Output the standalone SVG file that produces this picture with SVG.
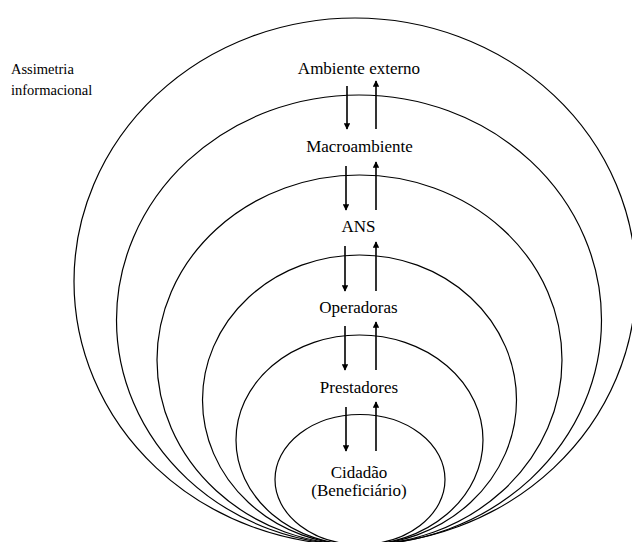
<svg xmlns="http://www.w3.org/2000/svg" width="632" height="542" viewBox="0 0 632 542">
<style>
.ring{fill:none;stroke:#000;stroke-width:1.2}
.lbl{font-family:"Liberation Serif","Times New Roman",serif;font-size:17px;fill:#000}
.side{font-family:"Liberation Serif","Times New Roman",serif;font-size:14.5px;fill:#000}
.arr{stroke:#000;stroke-width:1.6;fill:none;marker-end:url(#ah)}
</style>
<defs>
<marker id="ah" viewBox="0 0 10 10" refX="9" refY="5" markerWidth="4" markerHeight="4" markerUnits="strokeWidth" orient="auto">
<path d="M0,0 L10,5 L0,10 z" fill="#000"/>
</marker>
</defs>
<rect width="632" height="542" fill="#fff"/>
<g id="ambiente-externo">
<ellipse class="ring" cx="355" cy="281.5" rx="281" ry="263.5"/>
<text class="lbl" x="359" y="74" text-anchor="middle">Ambiente externo</text>
</g>
<g id="macroambiente">
<ellipse class="ring" cx="359" cy="320" rx="242.5" ry="225"/>
<text class="lbl" x="359.5" y="152" text-anchor="middle">Macroambiente</text>
</g>
<g id="ans">
<ellipse class="ring" cx="359.5" cy="360" rx="202.5" ry="185"/>
<text class="lbl" x="358.5" y="232" text-anchor="middle">ANS</text>
</g>
<g id="operadoras">
<ellipse class="ring" cx="359.5" cy="400" rx="157" ry="145"/>
<text class="lbl" x="358.5" y="313" text-anchor="middle">Operadoras</text>
</g>
<g id="prestadores">
<ellipse class="ring" cx="359.5" cy="440" rx="123.5" ry="105"/>
<text class="lbl" x="359" y="393" text-anchor="middle">Prestadores</text>
</g>
<g id="cidadao">
<ellipse class="ring" cx="360" cy="479.5" rx="85" ry="65"/>
<text class="lbl" x="359" y="478" text-anchor="middle">Cidadão</text>
<text class="lbl" x="359" y="496" text-anchor="middle">(Beneficiário)</text>
</g>
<g id="assimetria">
<text class="side" x="11" y="74">Assimetria</text>
<text class="side" x="11" y="95">informacional</text>
</g>
<g id="connectors">
<line class="arr" x1="347" y1="86" x2="347" y2="129"/>
<line class="arr" x1="376" y1="129" x2="376" y2="81"/>
<line class="arr" x1="346" y1="166" x2="346" y2="210"/>
<line class="arr" x1="376" y1="210" x2="376" y2="162"/>
<line class="arr" x1="345" y1="246" x2="345" y2="291"/>
<line class="arr" x1="376" y1="291" x2="376" y2="242"/>
<line class="arr" x1="345" y1="326" x2="345" y2="370"/>
<line class="arr" x1="376" y1="370" x2="376" y2="322"/>
<line class="arr" x1="346" y1="407" x2="346" y2="451"/>
<line class="arr" x1="376" y1="451" x2="376" y2="402"/>
</g>
</svg>
